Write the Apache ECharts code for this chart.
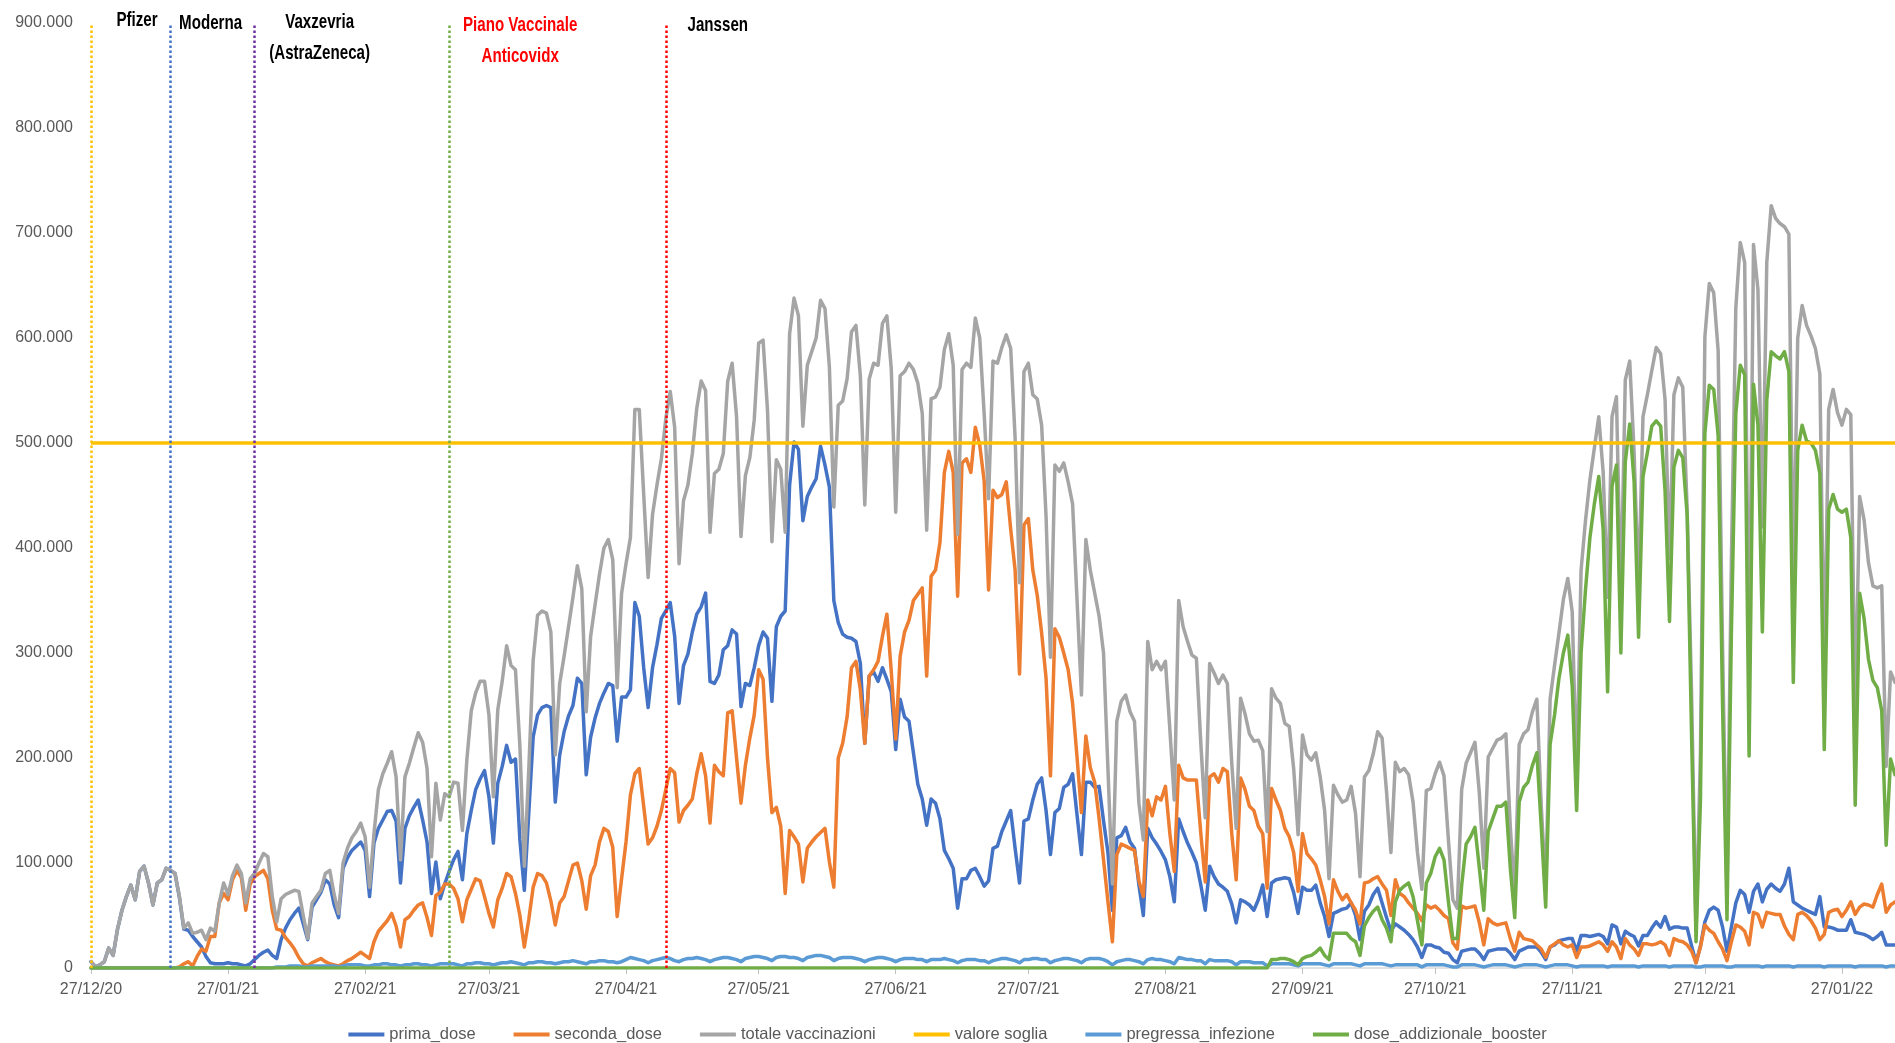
<!DOCTYPE html>
<html>
<head>
<meta charset="utf-8">
<title>Vaccinazioni giornaliere</title>
<script src="https://cdn.jsdelivr.net/npm/echarts@6/dist/echarts.min.js"></script>
<style>
  html, body { margin: 0; padding: 0; background: #fff; }
  #chart { width: 1895px; height: 1043px; }
</style>
</head>
<body>
<div id="chart"></div>
<script>
// valori giornalieri in migliaia di dosi, dal 27/12/2020 (409 giorni)
const startDate = [2020, 11, 27];
const dayCount = 409;

const tickLabels = ['27/12/20', '27/01/21', '27/02/21', '27/03/21', '27/04/21', '27/05/21', '27/06/21',
    '27/07/21', '27/08/21', '27/09/21', '27/10/21', '27/11/21', '27/12/21', '27/01/22'];

const primaDose = [
    6,1,3,6,19,12,37,55,68,79,
    65,92,97,81,60,81,84,95,93,90,
    67,37,36,30,25,20,11,5,4,4,
    4,5,4,4,3,2,4,8,12,15,
    17,12,9,27,38,46,52,57,42,27,
    58,65,72,84,80,60,48,95,105,112,
    116,120,112,68,119,133,141,149,150,140,
    81,133,145,153,160,141,120,71,101,66,
    80,92,103,111,84,128,150,170,180,188,
    163,119,176,192,212,196,199,122,74,147,
    220,241,248,250,248,158,203,225,240,250,
    276,271,184,220,238,252,262,271,269,216,
    258,258,265,348,335,286,248,286,308,333,
    340,348,316,252,288,299,320,337,344,357,
    273,271,279,303,307,322,318,249,271,269,
    286,307,320,314,254,325,335,340,460,501,
    494,426,449,458,466,497,479,458,350,329,
    318,315,314,311,290,214,278,282,273,286,
    275,263,208,256,239,235,205,175,161,136,
    161,157,142,112,104,95,57,85,85,93,
    95,87,78,83,114,116,130,140,150,114,
    81,140,142,160,175,181,150,108,148,152,
    172,175,185,146,108,177,177,172,173,140,
    110,55,124,126,134,120,114,79,50,133,
    124,118,111,103,87,63,142,130,119,110,
    100,79,55,97,87,80,77,73,61,43,
    65,63,60,55,65,79,49,81,84,85,
    86,85,72,52,77,74,74,79,62,49,
    30,52,54,56,57,62,50,27,54,60,
    70,76,62,48,35,42,39,36,32,27,
    20,10,22,22,20,19,15,14,8,5,
    16,17,18,18,14,8,16,17,18,18,
    18,14,8,16,18,20,20,20,15,8,
    20,22,26,27,28,28,16,31,31,30,
    31,32,30,23,41,39,23,35,32,30,
    21,31,31,38,44,39,49,37,39,39,
    38,38,21,5,21,44,55,58,55,39,
    16,39,62,74,70,53,73,80,63,75,
    80,76,73,80,95,63,60,57,55,53,
    51,68,39,39,38,36,36,36,46,34,
    33,32,30,27,30,34,22,22,22
];

const secondaDose = [
    0,0,0,0,0,0,0,0,0,0,
    0,0,0,0,0,0,0,0,0,0,
    1,4,6,2,11,18,16,30,30,62,
    71,65,84,93,86,55,80,87,90,93,
    85,55,37,36,29,24,18,10,4,2,
    5,7,9,6,4,3,2,4,7,9,
    12,15,12,9,25,35,40,45,52,40,
    20,46,49,55,60,62,48,31,69,72,
    80,80,76,66,44,65,75,85,83,68,
    52,39,65,76,90,87,71,50,20,46,
    77,90,88,81,64,41,62,68,83,98,
    100,83,56,88,98,120,133,130,115,49,
    85,120,165,185,190,154,118,124,135,150,
    170,190,186,139,150,155,161,185,204,183,
    138,193,187,183,243,245,200,157,193,219,
    241,284,275,200,148,153,135,71,131,125,
    118,82,114,120,125,129,133,101,77,200,
    214,239,286,292,265,214,278,284,292,316,
    337,282,218,297,320,331,350,356,362,278,
    373,379,405,472,492,472,354,481,485,472,
    515,498,464,360,455,448,451,463,418,379,
    280,422,428,379,355,319,276,183,323,315,
    300,284,252,201,148,221,191,177,142,103,
    63,25,108,118,116,114,112,83,68,160,
    145,163,160,173,128,92,193,181,179,179,
    179,128,82,182,185,177,190,187,128,84,
    181,170,154,150,135,128,76,171,160,150,
    133,125,110,73,128,109,104,98,84,68,
    42,84,73,65,70,62,55,42,81,82,
    85,87,80,74,50,84,71,68,62,57,
    52,45,60,57,59,55,50,47,24,18,
    59,57,58,59,43,22,47,43,41,42,
    43,28,16,34,28,27,26,22,18,10,
    20,23,26,22,20,22,10,20,20,21,
    23,25,22,16,25,20,9,28,22,18,
    12,23,23,22,23,25,22,12,28,26,
    25,22,16,5,20,41,36,33,25,18,
    7,25,41,39,35,22,53,51,39,53,
    52,51,51,40,32,27,51,53,50,45,
    38,27,32,53,55,56,49,55,63,51,
    58,61,60,58,70,80,53,60,63
];

const totaleVaccinazioni = [
    6,1,3,6,19,12,37,55,68,79,
    65,92,97,81,60,81,84,95,93,90,
    68,38,43,33,34,36,27,38,35,62,
    81,70,88,98,90,62,85,90,100,109,
    106,68,44,66,70,72,74,73,50,28,
    62,68,74,90,93,70,52,100,114,124,
    130,138,125,77,128,170,185,195,206,182,
    103,182,195,210,224,215,190,106,176,141,
    166,163,177,176,131,198,245,262,273,273,
    241,163,246,273,307,288,284,211,97,188,
    293,336,340,338,320,203,271,297,325,353,
    383,361,244,316,346,375,400,408,389,267,
    357,385,410,532,532,451,372,432,460,485,
    523,549,515,385,445,460,490,533,559,550,
    415,471,475,490,559,576,525,411,469,486,
    522,595,598,531,406,484,475,415,604,638,
    621,516,574,587,600,636,628,572,439,536,
    540,561,606,612,564,441,561,576,574,614,
    621,570,434,564,568,576,570,557,528,417,
    542,544,553,589,604,574,413,570,576,572,
    619,600,528,447,578,576,591,603,590,505,
    367,568,576,546,542,517,430,296,479,473,
    481,463,442,351,260,408,379,357,335,300,
    189,80,235,254,260,244,235,157,122,311,
    284,292,284,292,227,160,350,325,311,298,
    295,214,143,290,281,271,279,271,195,133,
    257,242,223,216,217,207,130,266,257,252,
    233,230,190,127,222,203,198,205,182,150,
    85,174,165,158,160,173,147,87,182,188,
    204,225,219,168,110,196,187,190,184,158,
    110,75,169,171,185,196,183,122,65,57,
    170,195,205,215,166,95,201,209,217,219,
    223,134,70,213,223,227,244,256,154,75,
    256,288,319,351,371,339,180,379,426,465,
    495,525,472,353,525,544,350,560,578,491,
    360,525,546,569,591,585,541,390,546,562,
    553,435,260,35,205,601,652,643,588,306,
    69,389,629,691,672,277,689,646,420,672,
    726,714,709,706,699,362,600,631,612,602,
    590,566,279,532,551,529,517,532,527,240,
    449,427,386,364,362,364,192,282,272
];

const valoreSoglia = 500;

const pregressaInfezione = [
    0,0,0,0,0,0,0,0,0,0,0,0,0,0,0,0,0,0,0,0,0,
    0,0,0,0,0,0,0,0,0,0,0,0,0,0,0,0,0,0,0,0,0,
    1,1,1,2,2,2,1,  1,2,2,2,2,2,2,  1,2,3,3,3,3,2,  2,3,3,4,4,3,3,
    2,3,3,4,4,3,3,  2,3,4,4,4,4,3,  2,4,4,5,5,4,4,  3,4,5,5,6,5,4,
    3,5,5,6,6,5,5,  4,5,6,6,7,6,5,  4,6,6,7,7,6,6,  5,6,8,10,9,8,7,
    5,7,8,9,10,9,7,  6,8,9,9,10,9,8,  6,8,9,10,10,9,8,  6,9,10,11,11,10,9,
    7,10,11,11,10,10,9,  7,10,11,12,12,11,10,  7,9,10,10,10,9,8,  6,8,9,10,10,9,8,
    6,8,9,9,9,8,8,  6,8,8,8,9,8,7,  5,7,8,8,8,7,7,  5,7,8,9,9,8,7,
    5,8,8,9,9,8,8,  5,7,8,9,9,8,7,  5,8,9,9,9,8,6,  3,6,7,8,8,7,6,
    4,8,9,8,8,7,6,  4,10,9,8,8,7,7,  4,8,7,7,7,7,6,  3,6,6,6,5,5,5,
    2,4,4,4,4,4,3,  2,4,4,4,4,4,3,  2,4,4,4,4,4,3,  2,4,4,4,4,4,3,
    2,3,3,3,3,3,3,  1,3,3,3,3,3,2,  1,1,3,3,3,3,2,  1,2,3,3,3,3,2,
    1,2,3,3,3,3,2,  1,2,3,3,3,3,2,  1,2,2,2,2,2,2,  1,2,2,2,2,2,2,
    1,2,2,2,2,2,2,  1,2,2,2,2,2,1,  1,2,2,2,2,2,1,  1,2,2,2,2,2,2,
    1,2,2,2,2,2,2,  1,2,2,2,2,2,2,  1,2,2,2,2,2,2,  1,2,2,2,2,2,2,
    1,2,2
];

const doseAddizionaleBooster = [
    0,0,0,0,0,0,0,0,0,0,0,0,0,0,0,0,0,0,0,0,
    0,0,0,0,0,0,0,0,0,0,0,0,0,0,0,0,0,0,0,0,
    0,0,0,0,0,0,0,0,0,0,0,0,0,0,0,0,0,0,0,0,
    0,0,0,0,0,0,0,0,0,0,0,0,0,0,0,0,0,0,0,0,
    0,0,0,0,0,0,0,0,0,0,0,0,0,0,0,0,0,0,0,0,
    0,0,0,0,0,0,0,0,0,0,0,0,0,0,0,0,0,0,0,0,
    0,0,0,0,0,0,0,0,0,0,0,0,0,0,0,0,0,0,0,0,
    0,0,0,0,0,0,0,0,0,0,0,0,0,0,0,0,0,0,0,0,
    0,0,0,0,0,0,0,0,0,0,0,0,0,0,0,0,0,0,0,0,
    0,0,0,0,0,0,0,0,0,0,0,0,0,0,0,0,0,0,0,0,
    0,0,0,0,0,0,0,0,0,0,0,0,0,0,0,0,0,0,0,0,
    0,0,0,0,0,0,0,0,0,0,0,0,0,0,0,0,0,0,0,0,
    0,0,0,0,0,0,0,0,0,0,0,0,0,0,0,0,0,0,0,0,
    0,0,0,0,0,0,0,8,8,9,
    9,8,6,3,9,11,12,15,19,12,
    8,33,33,33,33,28,25,12,40,48,
    54,58,46,38,25,63,74,78,81,68,
    45,22,81,90,106,114,103,63,28,28,
    79,118,125,134,95,55,130,142,154,154,
    158,95,48,158,172,177,193,205,134,58,
    213,241,276,300,317,268,150,300,360,410,
    442,468,417,263,459,479,300,482,518,463,
    315,468,491,516,521,516,454,330,477,493,
    486,431,220,25,160,509,555,551,507,250,
    46,320,528,574,565,202,556,517,320,541,
    587,583,580,587,568,272,493,517,502,500,
    493,471,208,437,451,437,434,437,410,155,
    357,333,294,274,267,245,117,199,184
];

// date di partenza dei vaccini (linee verticali)
const vacciniNomi = ['Pfizer', 'Moderna', 'Vaxzevria\n(AstraZeneca)', 'Piano Vaccinale\nAnticovidx', 'Janssen'];
const vacciniDate = ['27/12/20', '14/01/21', '02/02/21', '18/03/21', '06/05/21'];

// stile delle linee verticali / etichette (dx dalla linea, y della prima riga)
const vacciniStile = [
    { line: '#FFC000', text: '#000000', dx: 46, y: 20 },
    { line: '#4472C4', text: '#000000', dx: 40, y: 23 },
    { line: '#7030A0', text: '#000000', dx: 65, y: 22 },
    { line: '#70AD47', text: '#FF0000', dx: 71, y: 25 },
    { line: '#FF0000', text: '#000000', dx: 52, y: 25 }
];

const fontBase = "'Liberation Sans', Arial, sans-serif";

function buildDays(start, n) {
    let out = [];
    let t0 = Date.UTC(start[0], start[1], start[2]);
    for (let i = 0; i < n; i++) {
        let d = new Date(t0 + i * 86400000);
        let dd = String(d.getUTCDate()).padStart(2, '0');
        let mm = String(d.getUTCMonth() + 1).padStart(2, '0');
        let yy = String(d.getUTCFullYear()).slice(2);
        out.push(dd + '/' + mm + '/' + yy);
    }
    return out;
}

const days = buildDays(startDate, dayCount);

const lineSeries = (name, data, color) => ({
    name: name,
    type: 'line',
    data: data,
    symbol: 'none',
    showSymbol: false,
    silent: true,
    lineStyle: { color: color, width: 3.5, join: 'round', cap: 'round' },
    itemStyle: { color: color },
    emphasis: { disabled: true }
});

const isTick = (index) => tickLabels.indexOf(days[index]) >= 0;

let soglia = lineSeries('valore soglia', [], '#FFC000');
soglia.markLine = {
    silent: true,
    symbol: ['none', 'none'],
    label: { show: false },
    lineStyle: { color: '#FFC000', width: 3.5, type: 'solid' },
    data: [{ yAxis: valoreSoglia }]
};

let pregressa = lineSeries('pregressa_infezione', pregressaInfezione, '#5B9BD5');
pregressa.markLine = {
    silent: true,
    symbol: ['none', 'none'],
    label: { show: false },
    lineStyle: { type: 'dotted', width: 2.5 },
    data: vacciniDate.map((d, i) => ({
        xAxis: d,
        lineStyle: { color: vacciniStile[i].line, type: 'dotted', width: 2.5 }
    }))
};

const chart = echarts.init(document.getElementById('chart'));

chart.setOption({
    animation: false,
    backgroundColor: '#ffffff',
    grid: { left: 91, right: 0, top: 23, bottom: 75 },
    legend: {
        data: ['prima_dose', 'seconda_dose', 'totale vaccinazioni', 'valore soglia', 'pregressa_infezione', 'dose_addizionale_booster'],
        left: 'center',
        top: 1021,
        icon: 'rect',
        itemWidth: 36,
        itemHeight: 4,
        itemGap: 38,
        textStyle: { color: '#595959', fontSize: 16.5, fontFamily: fontBase }
    },
    xAxis: {
        type: 'category',
        data: days,
        boundaryGap: false,
        axisLine: { lineStyle: { color: '#D9D9D9', width: 1.5 } },
        axisTick: { show: true, interval: isTick, length: 6, lineStyle: { color: '#BFBFBF' } },
        axisLabel: {
            interval: isTick,
            color: '#595959',
            fontSize: 16,
            fontFamily: fontBase,
            margin: 14
        },
        splitLine: { show: false }
    },
    yAxis: {
        type: 'value',
        min: 0,
        max: 900,
        interval: 100,
        axisLine: { show: false },
        axisTick: { show: false },
        splitLine: { show: false },
        axisLabel: {
            color: '#595959',
            fontSize: 16,
            fontFamily: fontBase,
            margin: 18,
            formatter: v => v === 0 ? '0' : v + '.000'
        }
    },
    series: [
        lineSeries('prima_dose', primaDose, '#4472C4'),
        lineSeries('seconda_dose', secondaDose, '#ED7D31'),
        lineSeries('totale vaccinazioni', totaleVaccinazioni, '#A5A5A5'),
        soglia,
        pregressa,
        lineSeries('dose_addizionale_booster', doseAddizionaleBooster, '#70AD47')
    ]
});

// etichette dei vaccini: testo stretto (condensato) accanto alle linee
let notes = [];
vacciniNomi.forEach((name, i) => {
    let st = vacciniStile[i];
    let x = chart.convertToPixel({ xAxisIndex: 0 }, vacciniDate[i]) + st.dx;
    name.split('\n').forEach((row, r) => {
        notes.push({
            type: 'text',
            x: x,
            y: st.y + r * 31,
            scaleX: 0.72,
            silent: true,
            z: 10,
            style: {
                text: row,
                fill: st.text,
                font: 'bold 21px ' + fontBase,
                textAlign: 'center',
                textVerticalAlign: 'middle'
            }
        });
    });
});
chart.setOption({ graphic: notes });
</script>
</body>
</html>
